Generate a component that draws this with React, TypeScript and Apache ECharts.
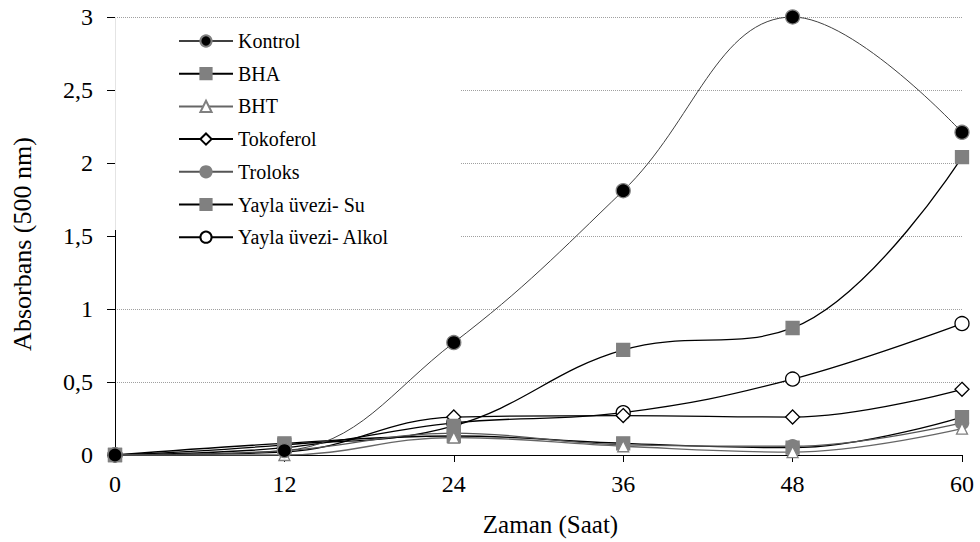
import React, { useEffect, useRef } from "react";
import * as echarts from "echarts";

const hours = [0, 12, 24, 36, 48, 60];
const seriesNames = ["Kontrol", "BHA", "BHT", "Tokoferol", "Troloks", "Yayla üvezi- Su", "Yayla üvezi- Alkol"];
const kontrol = [0, 0.03, 0.77, 1.81, 3.0, 2.21];
const bha = [0, 0.08, 0.13, 0.08, 0.05, 0.26];
const bht = [0, 0.0, 0.12, 0.06, 0.02, 0.18];
const tokoferol = [0, 0.02, 0.26, 0.27, 0.26, 0.45];
const troloks = [0, 0.03, 0.15, 0.07, 0.06, 0.22];
const yaylaSu = [0, 0.07, 0.2, 0.72, 0.87, 2.04];
const yaylaAlkol = [0, 0.05, 0.22, 0.29, 0.52, 0.9];
const yTicks = [0, 0.5, 1, 1.5, 2, 2.5, 3];

const FONT = "'Liberation Serif', 'Times New Roman', serif";

export default function App() {
  const ref = useRef<HTMLDivElement>(null);
  useEffect(() => {
    if (!ref.current) return;
    const chart = echarts.init(ref.current, null, { renderer: "svg" });
    const pair = (arr: number[]) => hours.map((h, i) => [h, arr[i]]);
    const mk = (
      name: string,
      data: number[],
      symbol: string,
      size: number,
      fill: string,
      border: string,
      lineColor: string,
      lineWidth: number
    ) => ({
      name,
      type: "line",
      smooth: 0.4,
      data: pair(data),
      symbol,
      symbolSize: size,
      showAllSymbol: true,
      lineStyle: { color: lineColor, width: lineWidth },
      itemStyle: { color: fill, borderColor: border, borderWidth: 1.3 },
      z: 3,
    });
    const series = [
      mk(seriesNames[6], yaylaAlkol, "circle", 14, "#ffffff", "#000000", "#000000", 1.3),
      mk(seriesNames[3], tokoferol, "diamond", 14, "#ffffff", "#000000", "#000000", 1.3),
      mk(seriesNames[5], yaylaSu, "rect", 13, "#808080", "#808080", "#000000", 1.3),
      mk(seriesNames[1], bha, "rect", 13, "#808080", "#808080", "#000000", 1.3),
      mk(seriesNames[4], troloks, "circle", 13, "#808080", "#808080", "#555555", 1.3),
      mk(seriesNames[2], bht, "triangle", 11, "#ffffff", "#808080", "#666666", 1.3),
      mk(seriesNames[0], kontrol, "circle", 14, "#000000", "#808080", "#404040", 1),
    ];
    chart.setOption({
      animation: false,
      textStyle: { fontFamily: FONT },
      grid: { left: 115, right: 18, top: 17, bottom: 84 },
      legend: {
        data: seriesNames,
        orient: "vertical",
        left: 178,
        top: 31,
        padding: 0,
        itemWidth: 54,
        itemHeight: 14,
        itemGap: 12.7,
        textStyle: { fontFamily: FONT, fontSize: 20, color: "#000" },
        z: 10,
      },
      xAxis: {
        type: "value",
        min: 0,
        max: 60,
        interval: 12,
        name: "Zaman (Saat)",
        nameLocation: "middle",
        nameGap: 57,
        nameTextStyle: { fontFamily: FONT, fontSize: 25, color: "#000", padding: [0, 0, 0, 24] },
        axisLine: { show: true, onZero: false, lineStyle: { color: "#000", width: 1 } },
        axisTick: { show: true, length: 7, lineStyle: { color: "#000" } },
        axisLabel: { fontFamily: FONT, fontSize: 24, color: "#000", margin: 17 },
        splitLine: { show: false },
      },
      yAxis: {
        type: "value",
        min: 0,
        max: 3,
        interval: 0.5,
        name: "Absorbans (500 nm)",
        nameLocation: "middle",
        nameGap: 80,
        nameTextStyle: { fontFamily: FONT, fontSize: 26, color: "#000", padding: [0, 16, 0, 0] },
        axisLine: { show: false },
        axisTick: { show: true, length: 8, lineStyle: { color: "#000" } },
        axisLabel: {
          fontFamily: FONT,
          fontSize: 24,
          color: "#000",
          margin: 22,
          formatter: (v: number) => (yTicks.includes(v) ? String(v).replace(".", ",") : ""),
        },
        splitLine: { show: true, lineStyle: { color: "#a0a0a0", type: "dotted", width: 1 } },
      },
      graphic: [
        {
          type: "rect",
          shape: { x: 116, y: 19, width: 344, height: 228 },
          style: { fill: "#ffffff" },
          z: 1,
        },
        {
          type: "line",
          shape: { x1: 115.5, y1: 17, x2: 115.5, y2: 230 },
          style: { stroke: "#e4e4e4", lineWidth: 1 },
          z: 1,
        },
        {
          type: "line",
          shape: { x1: 115.5, y1: 230, x2: 115.5, y2: 458 },
          style: { stroke: "#000000", lineWidth: 1 },
          z: 1,
        },
      ],
      series,
    });
    return () => chart.dispose();
  }, []);
  return (
    <div
      ref={ref}
      style={{ position: "fixed", left: 0, top: 0, width: 980, height: 542, background: "#fff" }}
    />
  );
}
